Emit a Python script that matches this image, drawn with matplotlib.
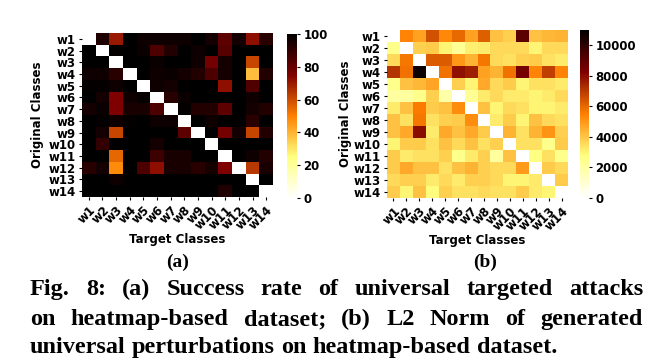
import numpy as np
import matplotlib
matplotlib.use("Agg")
import matplotlib.pyplot as plt

classes = [f"w{i}" for i in range(1, 15)]

# (a) success rate (%) rows = original class, cols = target class
success = [
    [0, 94, 70, 100, 97, 97, 97, 97, 100, 96, 82, 96, 72, 92],
    [100, 0, 99, 100, 98, 85, 93, 100, 97, 100, 83, 100, 100, 100],
    [100, 100, 0, 100, 100, 98, 100, 100, 97, 77, 96, 100, 61, 100],
    [97, 97, 92, 0, 100, 97, 98, 96, 93, 85, 96, 100, 38, 93],
    [99, 99, 97, 100, 0, 97, 96, 100, 100, 100, 72, 100, 84, 100],
    [100, 96, 75, 97, 99, 0, 92, 98, 100, 100, 100, 100, 97, 100],
    [96, 98, 75, 95, 95, 85, 0, 99, 93, 93, 82, 100, 96, 93],
    [100, 99, 97, 99, 100, 97, 97, 0, 100, 97, 100, 100, 92, 100],
    [100, 96, 61, 100, 100, 100, 100, 82, 0, 100, 77, 96, 61, 93],
    [100, 90, 100, 100, 100, 96, 100, 100, 100, 0, 100, 100, 100, 100],
    [100, 100, 55, 100, 100, 88, 95, 95, 100, 100, 0, 100, 97, 93],
    [92, 96, 48, 100, 85, 72, 95, 95, 92, 96, 75, 0, 64, 95],
    [100, 100, 97, 100, 100, 100, 100, 100, 100, 100, 100, 100, 0, 100],
    [100, 100, 100, 100, 100, 100, 100, 100, 100, 100, 94, 100, 100, 0],
]

# (b) L2 norm of generated universal perturbations
l2norm = [
    [0, 5400, 4800, 6500, 5300, 6000, 4800, 6200, 4100, 3800, 9000, 4100, 4300, 4400],
    [2500, 0, 3800, 3900, 3000, 2300, 3100, 3200, 3600, 3600, 3600, 3000, 3600, 3600],
    [3600, 5700, 0, 6300, 6300, 5000, 4400, 5700, 3600, 3400, 3800, 3900, 3400, 3200],
    [7100, 5800, 10700, 0, 5800, 7900, 7600, 4800, 4400, 5800, 8500, 5400, 6900, 5400],
    [2500, 4100, 4300, 4700, 0, 3800, 3000, 4600, 3600, 3900, 3000, 3400, 3400, 3200],
    [2100, 2100, 2500, 3800, 1900, 0, 2300, 3200, 3600, 3200, 3200, 3000, 3200, 3600],
    [3200, 4100, 5600, 3900, 4100, 5200, 0, 4100, 3000, 3600, 3400, 3000, 3000, 3200],
    [4100, 3400, 5700, 3400, 3800, 3900, 5200, 0, 3200, 3900, 3000, 4100, 3600, 3400],
    [4100, 4600, 8000, 3200, 4600, 4100, 4600, 3900, 0, 4400, 3400, 4400, 5100, 3800],
    [3000, 3900, 3900, 3400, 4100, 3600, 4100, 3400, 3800, 0, 3400, 3400, 2500, 3900],
    [3900, 3200, 3400, 3400, 3800, 2500, 3200, 3800, 2100, 4100, 0, 2700, 3400, 2500],
    [3900, 4600, 4100, 4100, 3400, 4100, 4400, 3800, 3600, 3600, 4900, 0, 3900, 3600],
    [3600, 3800, 3800, 3200, 3600, 3200, 3800, 3800, 3600, 3000, 3000, 3200, 0, 3900],
    [3900, 3000, 4100, 2800, 3800, 3400, 3400, 3600, 3400, 3400, 3900, 3200, 3000, 0],
]

cbar_ticks_a = [0, 20, 40, 60, 80, 100]
cbar_ticks_b = [0, 2000, 4000, 6000, 8000, 10000]

W, H = 659, 363
fig = plt.figure(figsize=(W / 100, H / 100), dpi=100)


def box(x0, y0, x1, y1):
    return [x0 / W, 1 - y1 / H, (x1 - x0) / W, (y1 - y0) / H]


def heat(ax_rect, cax_rect, data, vmax, ticks, ylab_px):
    ax = fig.add_axes(box(*ax_rect))
    cax = fig.add_axes(box(*cax_rect))
    arr = np.array(data, dtype=float)
    m = ax.pcolormesh(arr, cmap="afmhot_r", vmin=0, vmax=vmax)
    ax.set_xlim(0, arr.shape[1])
    ax.set_ylim(arr.shape[0], 0)
    for s in ax.spines.values():
        s.set_visible(False)
    ax.set_xticks(np.arange(len(classes)) + 0.5)
    ax.set_yticks(np.arange(len(classes)) + 0.5)
    ax.set_xticklabels(classes, rotation=45, ha="right", rotation_mode="anchor",
                       fontsize=8.5, fontweight="bold")
    ax.set_yticklabels(classes, fontsize=8.5, fontweight="bold")
    ax.tick_params(length=2.5, width=0.8, pad=2)
    ax.set_xlabel("Target Classes", fontsize=8.5, fontweight="bold", labelpad=1)
    yc = (ax_rect[1] + ax_rect[3]) / 2
    fig.text(ylab_px / W, 1 - yc / H, "Original Classes", rotation=90,
             ha="center", va="center", fontsize=8.5, fontweight="bold")
    cb = fig.colorbar(m, cax=cax, ticks=ticks)
    cb.outline.set_visible(False)
    cb.ax.tick_params(labelsize=8.5, length=2.5, width=0.8, pad=2)
    for t in cb.ax.get_yticklabels():
        t.set_fontweight("bold")
    return ax


heat((82, 33, 273, 197), (287, 34, 297, 198), success, 100, cbar_ticks_a, 37)
heat((387, 30, 568, 198), (580, 30, 589, 198), l2norm, 11000, cbar_ticks_b, 345)

serif = dict(family="Liberation Serif", fontweight="bold")
fig.text(178 / W, 1 - 262 / H, "(a)", fontsize=14, ha="center", va="center", **serif)
fig.text(485 / W, 1 - 262 / H, "(b)", fontsize=14, ha="center", va="center", **serif)

lines = [
    "Fig. 8: (a) Success rate of universal targeted attacks",
    "on heatmap-based dataset; (b) L2 Norm of generated",
    "universal perturbations on heatmap-based dataset.",
]
baselines = [295, 325, 353]
x_left, x_right = 30, 643
fig.canvas.draw()
renderer = fig.canvas.get_renderer()
for li, (line, yb) in enumerate(zip(lines, baselines)):
    words = line.split(" ")
    texts = [fig.text(0, 1 - yb / H, w, fontsize=17.5, ha="left", va="baseline", **serif)
             for w in words]
    widths = [t.get_window_extent(renderer).width for t in texts]
    if li < len(lines) - 1:
        gap = (x_right - x_left - sum(widths)) / (len(words) - 1)
    else:
        sp = fig.text(0, 0, "a a", fontsize=17.5, **serif)
        sp2 = fig.text(0, 0, "aa", fontsize=17.5, **serif)
        gap = sp.get_window_extent(renderer).width - sp2.get_window_extent(renderer).width
        sp.remove(); sp2.remove()
    x = x_left
    for t, w in zip(texts, widths):
        t.set_x(x / W)
        x += w + gap

fig.savefig("out.png", dpi=100)
